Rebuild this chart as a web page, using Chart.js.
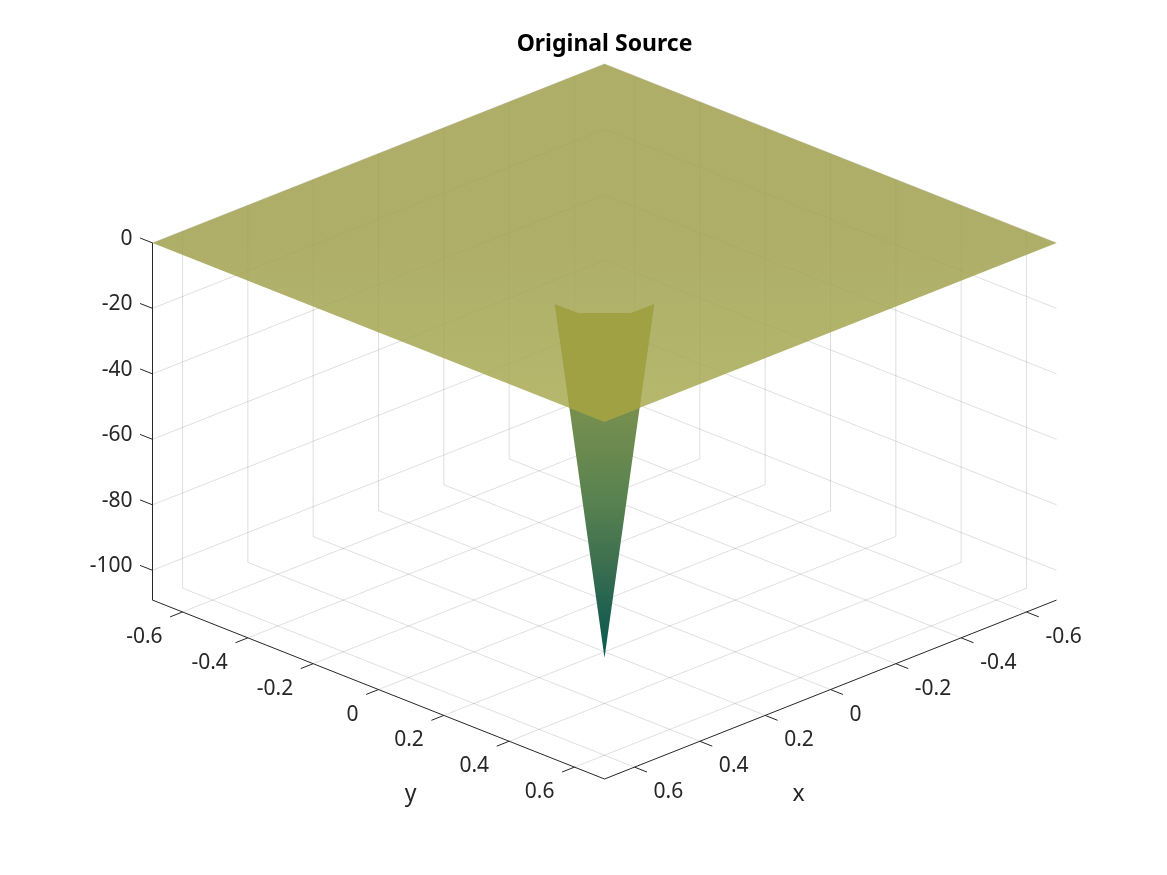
<!DOCTYPE html>
<html>
<head>
<meta charset="utf-8">
<title>Original Source</title>
<script src="https://cdn.jsdelivr.net/npm/chart.js@4/dist/chart.umd.min.js"></script>
<style>
    html, body { margin: 0; background: #fff; }
    canvas { display: block; }
</style>
</head>
<body>
<canvas id="chart" width="1167" height="875"></canvas>
<script>
// Axis ticks
const xTicks = [-0.6, -0.4, -0.2, 0, 0.2, 0.4, 0.6];
const yTicks = [-0.6, -0.4, -0.2, 0, 0.2, 0.4, 0.6];
const zTicks = [0, -20, -40, -60, -80, -100];
const xTickLabels = ['-0.6', '-0.4', '-0.2', '0', '0.2', '0.4', '0.6'];
const yTickLabels = ['-0.6', '-0.4', '-0.2', '0', '0.2', '0.4', '0.6'];
const zTickLabels = ['0', '-20', '-40', '-60', '-80', '-100'];

// Axis limits
const xyLimit = 0.692;
const zFloor = -109.1;

// Flat part of the surface, [x, y, z]
const plate = [[-0.692, -0.692, 0], [-0.692, 0.692, 0], [0.692, 0.692, 0], [0.692, -0.692, 0]];
// The spike going down from the flat part
const spike = [[0.313, 0.161, 0], [0.312, 0.23, 0], [0.23, 0.312, 0], [0.161, 0.313, 0], [0.237, 0.237, -108]];
// The same spike where it is seen through the flat part
const spikeSeen = [[0.313, 0.161, 0], [0.312, 0.23, 0], [0.23, 0.312, 0], [0.161, 0.313, 0], [0.585, 0.692, 0], [0.692, 0.692, 0], [0.692, 0.585, 0]];

// Surface colour against height on the spike
const spikeLevels = [0, -35, -60, -78, -96, -108];
const spikeColors = ['#8c9a50', '#748e4e', '#588250', '#3e7050', '#1c5f50', '#0a5c50'];

const AXIS_COLOR = '#262626';
const GRID_COLOR = 'rgba(38,38,38,0.15)';
const FONT = '"Noto Sans", sans-serif';

// View from above the x=y corner, z stays in data units
function project(p) {
    return { x: p[1] - p[0], y: p[2] - (p[0] + p[1]) * 39.49 };
}

function lineSet(points, color, width) {
    return {
        data: points.map(project),
        showLine: true,
        borderColor: color,
        borderWidth: width,
        pointRadius: 0,
        fill: false,
        clip: false
    };
}

function shapeSet(points, background) {
    return {
        data: points.map(project),
        showLine: true,
        borderWidth: 0,
        pointRadius: 0,
        fill: 'shape',
        backgroundColor: background,
        clip: false
    };
}

// Vertical gradient, stops given as points of the model
function gradient(chart, stops) {
    const scale = chart.scales.y;
    const top = scale ? scale.getPixelForValue(project(stops[0][0]).y) : NaN;
    const bottom = scale ? scale.getPixelForValue(project(stops[stops.length - 1][0]).y) : NaN;
    // scales have no size yet on the first pass
    if (!isFinite(top) || !isFinite(bottom)) return stops[0][1];
    const g = chart.ctx.createLinearGradient(0, top, 0, bottom);
    stops.forEach(s => {
        g.addColorStop((scale.getPixelForValue(project(s[0]).y) - top) / (bottom - top), s[1]);
    });
    return g;
}

// Paint order, first one at the back
const layers = [];

// Grid on the floor and the two back walls
xTicks.forEach(x => {
    layers.push(lineSet([[x, xyLimit, zFloor], [x, -xyLimit, zFloor], [x, -xyLimit, 0]], GRID_COLOR, 1));
});
yTicks.forEach(y => {
    layers.push(lineSet([[xyLimit, y, zFloor], [-xyLimit, y, zFloor], [-xyLimit, y, 0]], GRID_COLOR, 1));
});
zTicks.forEach(z => {
    layers.push(lineSet([[xyLimit, -xyLimit, z], [-xyLimit, -xyLimit, z], [-xyLimit, xyLimit, z]], GRID_COLOR, 1));
});

// Axis lines and tick marks
layers.push(lineSet([[xyLimit, -xyLimit, 0], [xyLimit, -xyLimit, zFloor], [xyLimit, xyLimit, zFloor], [-xyLimit, xyLimit, zFloor]], AXIS_COLOR, 1));
xTicks.forEach(x => {
    layers.push(lineSet([[x, xyLimit, zFloor], [x, xyLimit + 0.038, zFloor]], AXIS_COLOR, 1));
});
yTicks.forEach(y => {
    layers.push(lineSet([[xyLimit, y, zFloor], [xyLimit + 0.038, y, zFloor]], AXIS_COLOR, 1));
});
zTicks.forEach(z => {
    layers.push(lineSet([[xyLimit, -xyLimit, z], [xyLimit, -xyLimit - 0.038, z]], AXIS_COLOR, 1));
});

// Surface
layers.push(shapeSet(spike, ctx => gradient(ctx.chart, spikeLevels.map((z, i) => [[0.237, 0.237, z], spikeColors[i]]))));
layers.push(shapeSet(plate, ctx => gradient(ctx.chart, [
    [[-0.692, -0.692, 0], 'rgba(160,160,79,0.85)'],
    [[0, 0, 0], 'rgba(160,160,79,0.85)'],
    [[0.692, 0.692, 0], 'rgba(170,172,84,0.85)']
])));
layers.push(shapeSet(spikeSeen, 'rgb(159,161,66)'));

// Tick labels sit next to the tick marks, offsets in pixels
const axisText = {
    id: 'axisText',
    afterDatasetsDraw(chart) {
        const { ctx, scales } = chart;
        const put = (p, text, dx, dy, align, size) => {
            const v = project(p);
            ctx.textAlign = align;
            ctx.font = `${size}px ${FONT}`;
            ctx.fillText(text, scales.x.getPixelForValue(v.x) + dx, scales.y.getPixelForValue(v.y) + dy);
        };
        ctx.save();
        ctx.fillStyle = AXIS_COLOR;
        ctx.textBaseline = 'middle';
        xTicks.forEach((x, i) => put([x, xyLimit, zFloor], xTickLabels[i], 19, 25, 'left', 21));
        yTicks.forEach((y, i) => put([xyLimit, y, zFloor], yTickLabels[i], -20, 25, 'right', 21));
        zTicks.forEach((z, i) => put([xyLimit, -xyLimit, z], zTickLabels[i], -20, -4, 'right', 21));
        put([0.454, 1.048, zFloor], 'x', 0, 0, 'center', 23);
        put([1.048, 0.454, zFloor], 'y', 0, 0, 'center', 23);
        ctx.restore();
    }
};

new Chart(document.getElementById('chart'), {
    type: 'scatter',
    data: { datasets: layers.slice().reverse() },
    plugins: [axisText],
    options: {
        responsive: false,
        animation: false,
        events: [],
        layout: { padding: { left: 152.5, right: 110.5, top: 0, bottom: 96 } },
        scales: {
            x: { type: 'linear', display: false, min: -1.384, max: 1.384 },
            y: { type: 'linear', display: false, min: -163.75, max: 54.65 }
        },
        plugins: {
            legend: { display: false },
            tooltip: { enabled: false },
            title: {
                display: true,
                text: 'Original Source',
                color: '#000',
                font: { family: FONT, size: 23, weight: 'bold', lineHeight: 1.2 },
                padding: { top: 31, bottom: 5.4 }
            }
        }
    }
});
</script>
</body>
</html>
